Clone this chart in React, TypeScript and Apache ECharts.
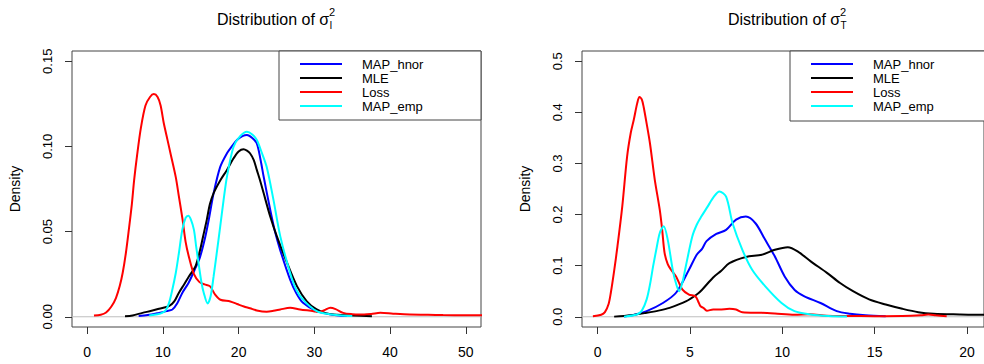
import React, { useEffect, useRef } from "react";
import * as echarts from "echarts";

// ---------- data ----------
const seriesNames = ["MAP_hnor", "MLE", "Loss", "MAP_emp"];
const seriesColors = ["#0000ff", "#000000", "#ff0000", "#00ffff"];

const leftXTicks = [0, 10, 20, 30, 40, 50];
const leftYTicks = [0, 0.05, 0.1, 0.15];
const rightXTicks = [0, 5, 10, 15, 20];
const rightYTicks = [0, 0.1, 0.2, 0.3, 0.4, 0.5];

const leftMapHnor: [number, number][] = [
  [6.8, 0.0005], [8, 0.001], [9.5, 0.0023], [10.5, 0.0033], [11.25, 0.0043], [11.9, 0.008],
  [12.56, 0.014], [13.4, 0.02], [14.3, 0.0287], [14.9, 0.035], [15.6, 0.047], [16.1, 0.058],
  [16.7, 0.0726], [17.57, 0.088], [18.46, 0.096], [19.1, 0.1], [19.78, 0.1038], [20.5, 0.106],
  [21.1, 0.1067], [21.8, 0.105], [22.4, 0.1018], [22.9, 0.092], [23.3, 0.0823], [24.17, 0.0628],
  [24.8, 0.05], [25.5, 0.039], [26.8, 0.0218], [27.6, 0.014], [28.5, 0.0082], [30.3, 0.0033],
  [32, 0.0015], [34.3, 0.0004],
];
const leftMle: [number, number][] = [
  [5.0, 0.0003], [6, 0.0008], [7.3, 0.0023], [8.5, 0.0035], [9.5, 0.0047], [10.8, 0.0062],
  [11.5, 0.009], [12.1, 0.014], [12.8, 0.019], [13.45, 0.0238], [14.3, 0.0296], [14.9, 0.039],
  [15.3, 0.047], [15.8, 0.057], [16.2, 0.066], [16.7, 0.0726], [17.57, 0.08], [18.46, 0.0862],
  [19.33, 0.093], [20.0, 0.097], [20.65, 0.0983], [21.1, 0.0975], [21.5, 0.096], [22.0, 0.092],
  [22.4, 0.0862], [22.9, 0.079], [23.3, 0.0726], [24.17, 0.0589], [25.05, 0.0472], [26.4, 0.0316],
  [27.7, 0.018], [29.0, 0.0091], [30.3, 0.0043], [31.6, 0.002], [33, 0.0012], [35, 0.0008],
  [37.6, 0.0003],
];
const leftLoss: [number, number][] = [
  [0.9, 0.0008], [1.8, 0.0012], [2.5, 0.0025], [3.2, 0.006], [3.8, 0.011], [4.3, 0.018],
  [4.7, 0.026], [5.1, 0.037], [5.5, 0.051], [5.9, 0.066], [6.2, 0.08], [6.6, 0.095],
  [7.1, 0.111], [7.7, 0.124], [8.3, 0.129], [8.8, 0.1307], [9.3, 0.129], [9.7, 0.124],
  [10.1, 0.114], [10.6, 0.104], [11.0, 0.096], [11.7, 0.082], [12.1, 0.071], [12.6, 0.057],
  [13.0, 0.044], [13.5, 0.034], [14.1, 0.025], [14.8, 0.0205], [15.5, 0.019], [16.2, 0.018],
  [16.9, 0.013], [17.6, 0.01], [18.9, 0.009], [19.8, 0.0075], [20.7, 0.006], [21.5, 0.005],
  [22.4, 0.0037], [23.7, 0.003], [24.6, 0.0035], [25.5, 0.0043], [26.8, 0.0053], [28.1, 0.0043],
  [29.9, 0.0033], [30.5, 0.0028], [31.3, 0.0038], [32.1, 0.0053], [32.8, 0.0045], [33.8, 0.0023],
  [35, 0.0015], [36, 0.0013], [37.5, 0.0017], [38.7, 0.0023], [40.4, 0.0018], [42.6, 0.0013],
  [45, 0.0012], [47, 0.001], [50, 0.0009], [53, 0.0008],
];
const leftMapEmp: [number, number][] = [
  [8.2, 0.0008], [9.3, 0.0015], [9.9, 0.0023], [10.4, 0.004], [10.8, 0.008], [11.2, 0.015],
  [11.7, 0.0257], [12.1, 0.037], [12.56, 0.051], [13.0, 0.058], [13.36, 0.0593], [13.7, 0.057],
  [14.1, 0.051], [14.4, 0.041], [14.77, 0.0296], [15.1, 0.02], [15.4, 0.014], [15.9, 0.0078],
  [16.3, 0.012], [16.7, 0.0238], [17.1, 0.037], [17.57, 0.053], [18.0, 0.068], [18.46, 0.0823],
  [19.33, 0.0998], [20.2, 0.106], [21.1, 0.1086], [21.8, 0.107], [22.4, 0.1038], [23.0, 0.097],
  [23.7, 0.088], [24.6, 0.0686], [25.5, 0.0472], [26.8, 0.0257], [27.6, 0.016], [28.5, 0.0101],
  [30.3, 0.0033], [32, 0.0015], [35, 0.0004],
];

const rightMapHnor: [number, number][] = [
  [1.43, 0.0005], [2.0, 0.004], [2.66, 0.011], [3.54, 0.027], [4.25, 0.047], [4.95, 0.092],
  [5.37, 0.1215], [5.66, 0.133], [5.9, 0.148], [6.43, 0.162], [6.96, 0.17], [7.5, 0.19],
  [8.03, 0.196], [8.55, 0.183], [9.07, 0.151], [9.6, 0.118], [10.13, 0.079], [10.66, 0.053],
  [11.2, 0.04], [12.07, 0.027], [12.95, 0.011], [13.66, 0.006], [14.5, 0.003], [15.6, 0.001],
];
const rightMle: [number, number][] = [
  [0.9, 0.0003], [1.8, 0.003], [2.66, 0.0078], [3.3, 0.012], [3.9, 0.0175], [4.78, 0.03],
  [5.37, 0.0435], [5.66, 0.053], [6.26, 0.077], [6.7, 0.09], [7.14, 0.105], [8.03, 0.117],
  [8.9, 0.1215], [9.6, 0.131], [10.3, 0.136], [10.83, 0.128], [11.54, 0.1085], [12.42, 0.086],
  [13.13, 0.066], [13.83, 0.05], [14.7, 0.034], [15.6, 0.024], [16.5, 0.0156], [17.36, 0.009],
  [18.2, 0.006], [19.6, 0.0045], [20.35, 0.004], [21, 0.004],
];
const rightLoss: [number, number][] = [
  [-0.25, 0.001], [0.2, 0.004], [0.4, 0.009], [0.6, 0.025], [0.72, 0.047], [0.9, 0.09],
  [1.08, 0.138], [1.34, 0.216], [1.6, 0.313], [1.8, 0.36], [1.96, 0.385], [2.15, 0.418],
  [2.27, 0.43], [2.4, 0.425], [2.5, 0.41], [2.65, 0.38], [2.84, 0.339], [3.1, 0.268],
  [3.37, 0.209], [3.5, 0.17], [3.63, 0.125], [3.8, 0.103], [3.98, 0.092], [4.25, 0.079],
  [4.6, 0.053], [4.95, 0.0435], [5.3, 0.04], [5.45, 0.03], [5.57, 0.0207], [5.73, 0.0175],
  [5.92, 0.012], [6.26, 0.0142], [6.6, 0.0142], [7.14, 0.0156], [7.5, 0.0142], [7.84, 0.009],
  [8.9, 0.0078], [9.6, 0.0064], [10.66, 0.0039], [11.5, 0.005], [12.4, 0.002], [13.5, 0.0015],
  [15, 0.0012], [16.5, 0.0015], [17.5, 0.003], [17.9, 0.0045], [18.3, 0.003], [18.9, 0.0008],
];
const rightMapEmp: [number, number][] = [
  [1.43, 0.0003], [2.13, 0.0045], [2.4, 0.012], [2.66, 0.034], [2.85, 0.065], [3.01, 0.099],
  [3.2, 0.135], [3.37, 0.164], [3.58, 0.177], [3.8, 0.151], [4.07, 0.092], [4.25, 0.065],
  [4.42, 0.05], [4.6, 0.068], [4.78, 0.099], [5.13, 0.157], [5.37, 0.18], [5.6, 0.195],
  [5.95, 0.215], [6.3, 0.235], [6.6, 0.245], [6.96, 0.235], [7.31, 0.183], [7.84, 0.131],
  [8.37, 0.092], [9.07, 0.06], [9.96, 0.027], [10.66, 0.011], [11.54, 0.0045], [12.5, 0.0015],
  [13.5, 0.0003],
];

const leftXRange = [-2, 52];
const leftYRange = [-0.006, 0.156];
const rightXRange = [-0.84, 20.92];
const rightYRange = [-0.02, 0.52];

const FONT = "'Liberation Sans', Arial, sans-serif";

function axisX(gridIndex: number, range: number[], ticks: number[]) {
  return {
    type: "value",
    gridIndex,
    position: "bottom",
    min: range[0],
    max: range[1],
    axisLine: { show: false, onZero: false },
    splitLine: { show: false },
    axisTick: {
      show: true,
      length: 7,
      customValues: ticks,
      lineStyle: { color: "#333", width: 1 },
    },
    axisLabel: {
      customValues: ticks,
      margin: 18,
      fontSize: 14,
      fontFamily: FONT,
      color: "#000",
    },
  };
}

function axisY(gridIndex: number, range: number[], ticks: number[], fmt: (v: number) => string) {
  return {
    type: "value",
    gridIndex,
    position: "left",
    min: range[0],
    max: range[1],
    name: "Density",
    nameLocation: "middle",
    nameGap: 50,
    nameTextStyle: { fontSize: 14, fontFamily: FONT, color: "#000" },
    axisLine: { show: false, onZero: false },
    splitLine: { show: false },
    axisTick: {
      show: true,
      length: 7,
      customValues: ticks,
      lineStyle: { color: "#333", width: 1 },
    },
    axisLabel: {
      customValues: ticks,
      rotate: 90,
      margin: 18,
      fontSize: 13,
      fontFamily: FONT,
      color: "#000",
      formatter: (v: number) => fmt(v),
    },
  };
}

export default function App() {
  const ref = useRef<HTMLDivElement>(null);

  useEffect(() => {
    if (!ref.current) return;
    const chart = echarts.init(ref.current, undefined, { renderer: "svg" });

    const leftData = [leftMapHnor, leftMle, leftLoss, leftMapEmp];
    const rightData = [rightMapHnor, rightMle, rightLoss, rightMapEmp];

    const mk = (name: string, color: string, data: [number, number][], idx: number) => ({
      type: "line",
      name,
      xAxisIndex: idx,
      yAxisIndex: idx,
      data,
      symbol: "none",
      smooth: 0.3,
      clip: true,
      z: 2,
      lineStyle: { color, width: 2 },
      itemStyle: { color },
    });

    const series: any[] = [
      {
        type: "line",
        name: "zero-left",
        xAxisIndex: 0,
        yAxisIndex: 0,
        data: [[leftXRange[0], 0], [leftXRange[1], 0]],
        symbol: "none",
        silent: true,
        z: 1,
        lineStyle: { color: "#bebebe", width: 1 },
      },
      {
        type: "line",
        name: "zero-right",
        xAxisIndex: 1,
        yAxisIndex: 1,
        data: [[rightXRange[0], 0], [rightXRange[1], 0]],
        symbol: "none",
        silent: true,
        z: 1,
        lineStyle: { color: "#bebebe", width: 1 },
      },
    ];
    seriesNames.forEach((n, i) => series.push(mk(n, seriesColors[i], leftData[i], 0)));
    seriesNames.forEach((n, i) => series.push(mk(n, seriesColors[i], rightData[i], 1)));

    const legendCommon = {
      orient: "vertical",
      data: seriesNames,
      icon: "rect",
      itemWidth: 42,
      itemHeight: 2,
      itemGap: 0,
      padding: 0,
      selectedMode: false,
      textStyle: {
        fontSize: 13,
        fontFamily: FONT,
        color: "#000",
        lineHeight: 14,
        padding: [0, 0, 0, 15],
      },
      z: 10,
    };

    const titleText = (x: number, sub: string) => [
      {
        type: "text",
        x,
        y: 19,
        style: { text: "Distribution of σ", fontSize: 16, fontFamily: FONT, fill: "#000", align: "left", verticalAlign: "middle" },
      },
      {
        type: "text",
        x: x + 112,
        y: 12,
        style: { text: "2", fontSize: 11, fontFamily: FONT, fill: "#000", align: "left", verticalAlign: "middle" },
      },
      {
        type: "text",
        x: x + 112.5,
        y: 25,
        style: { text: sub, fontSize: 10, fontFamily: FONT, fill: "#000", align: "left", verticalAlign: "middle" },
      },
    ];

    chart.setOption({
      animation: false,
      backgroundColor: "#fff",
      grid: [
        { left: 72, top: 51, width: 409, height: 276, show: true, borderColor: "#444", borderWidth: 1, backgroundColor: "transparent" },
        { left: 582, top: 51, width: 412, height: 276, show: true, borderColor: "#444", borderWidth: 1, backgroundColor: "transparent" },
      ],
      xAxis: [axisX(0, leftXRange, leftXTicks), axisX(1, rightXRange, rightXTicks)],
      yAxis: [
        axisY(0, leftYRange, leftYTicks, (v) => v.toFixed(2)),
        axisY(1, rightYRange, rightYTicks, (v) => v.toFixed(1)),
      ],
      legend: [
        { ...legendCommon, left: 300, top: 57 },
        { ...legendCommon, left: 811, top: 57 },
      ],
      graphic: [
        { type: "rect", z: 3, shape: { x: 279, y: 51, width: 202, height: 69 }, style: { fill: "#fff", stroke: "#444", lineWidth: 1 } },
        { type: "rect", z: 3, shape: { x: 790, y: 51, width: 204, height: 70 }, style: { fill: "#fff", stroke: "#444", lineWidth: 1 } },
        ...titleText(217, "I"),
        ...titleText(728, "T"),
      ],
      series,
    });

    return () => chart.dispose();
  }, []);

  return (
    <div
      ref={ref}
      style={{ position: "fixed", left: 0, top: 0, width: 984, height: 364, background: "#fff" }}
    />
  );
}
